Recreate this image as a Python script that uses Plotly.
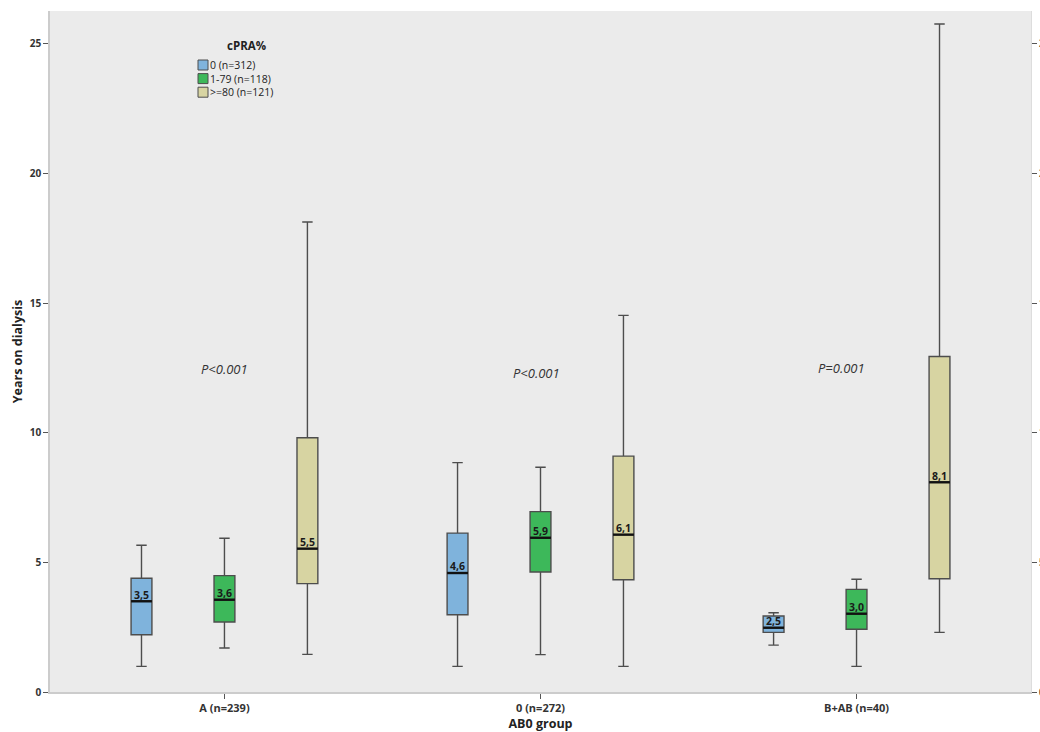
import plotly.graph_objects as go

# ABO groups and cPRA categories
groups = ["A (n=239)", "0 (n=272)", "B+AB (n=40)"]
cpra = ["0 (n=312)", "1-79 (n=118)", ">=80 (n=121)"]

# Box statistics (years on dialysis) per cPRA category, one value per ABO group
lower_whisker = [[0.99, 0.99, 1.81], [1.70, 1.44, 0.99], [1.45, 0.99, 2.30]]
q1 = [[2.21, 2.98, 2.30], [2.70, 4.63, 2.42], [4.18, 4.33, 4.37]]
median = [[3.50, 4.59, 2.48], [3.56, 5.95, 3.02], [5.53, 6.07, 8.09]]
q3 = [[4.39, 6.13, 2.93], [4.49, 6.96, 3.96], [9.81, 9.10, 12.94]]
upper_whisker = [[5.66, 8.85, 3.06], [5.93, 8.67, 4.35], [18.13, 14.53, 25.77]]
median_labels = [["3,5", "4,6", "2,5"], ["3,6", "5,9", "3,0"], ["5,5", "6,1", "8,1"]]

# Test results per ABO group
p_values = ["P<0.001", "P<0.001", "P=0.001"]
p_x = [0.0, 0.987, 1.953]
p_y = [12.45, 12.3, 12.5]

fills = ["#7fb3dc", "#3db85a", "#d7d4a2"]
outline = "#4d4d4d"
offsets = [-0.2625, 0.0, 0.2625]
box_w = 0.066
font_family = "Open Sans, DejaVu Sans, sans-serif"

# plot-area geometry in pixels (used for the compact legend block)
L, R, T, B = 50, 1031, 11, 692
W, H = R - L, B - T


def px_x(p):
    return (p - L) / W


def px_y(p):
    return (B - p) / H


fig = go.Figure()

for i, name in enumerate(cpra):
    xs = [g + offsets[i] for g in range(len(groups))]
    fig.add_trace(go.Box(
        name=name,
        x=xs,
        lowerfence=lower_whisker[i],
        q1=q1[i],
        median=median[i],
        q3=q3[i],
        upperfence=upper_whisker[i],
        width=box_w,
        whiskerwidth=0.5,
        fillcolor=fills[i],
        line=dict(color=outline, width=1.4),
        boxpoints=False,
        hoverinfo="skip",
        showlegend=False,
    ))

# Thick median bars and their value labels
for i in range(len(cpra)):
    xs = [g + offsets[i] for g in range(len(groups))]
    mx, my = [], []
    for x, m in zip(xs, median[i]):
        mx += [x - box_w / 2, x + box_w / 2, None]
        my += [m, m, None]
    fig.add_trace(go.Scatter(
        x=mx, y=my, mode="lines",
        line=dict(color="#111111", width=2.4),
        showlegend=False, hoverinfo="skip",
    ))
    fig.add_trace(go.Scatter(
        x=xs, y=median[i], mode="text",
        text=median_labels[i], textposition="top center",
        textfont=dict(family=font_family, size=10.5, color="#1a1a1a", weight="bold"),
        showlegend=False, hoverinfo="skip",
    ))

# Right-hand mirrored axis
fig.add_trace(go.Scatter(x=[None], y=[None], yaxis="y2", showlegend=False, hoverinfo="skip"))

for xx, txt, yy in zip(p_x, p_values, p_y):
    fig.add_annotation(
        x=xx, y=yy, text=f"<i>{txt}</i>", showarrow=False,
        font=dict(family=font_family, size=13, color="#333333"),
    )

# Compact legend: title, swatches and labels
fig.add_annotation(
    xref="paper", yref="paper", x=px_x(246), y=px_y(45),
    text="<b>cPRA%</b>", showarrow=False, xanchor="center", yanchor="middle",
    font=dict(family=font_family, size=11.5, color="#222222"), borderpad=0,
)
for i, name in enumerate(cpra):
    cy = 65 + i * 13.6
    fig.add_shape(
        type="rect", xref="paper", yref="paper",
        x0=px_x(198), x1=px_x(208), y0=px_y(cy + 5), y1=px_y(cy - 5),
        fillcolor=fills[i], line=dict(color=outline, width=1),
    )
    fig.add_annotation(
        xref="paper", yref="paper", x=px_x(209), y=px_y(cy),
        text=name, showarrow=False, xanchor="left", yanchor="middle",
        font=dict(family=font_family, size=10.5, color="#222222"), borderpad=0,
    )

y_range = [0, 26.27]
tickfont = dict(family=font_family, size=10, color="#333333", weight="bold")

fig.update_layout(
    width=1040, height=732,
    margin=dict(l=L, r=1040 - R, t=T, b=732 - B),
    paper_bgcolor="white",
    plot_bgcolor="#ebebeb",
    showlegend=False,
    xaxis=dict(
        range=[-0.552, 2.552], automargin=False,
        tickmode="array", tickvals=list(range(len(groups))), ticktext=groups,
        ticks="outside", ticklen=5, tickcolor="#555555", tickwidth=1,
        tickfont=dict(family=font_family, size=11, color="#333333", weight="bold"),
        showgrid=False, zeroline=False,
        showline=True, linecolor="#cccccc", linewidth=1.5,
        title=dict(text="AB0 group", standoff=4,
                   font=dict(family=font_family, size=12.5, color="#222222", weight="bold")),
    ),
    yaxis=dict(
        range=y_range, automargin=False,
        tickvals=[0, 5, 10, 15, 20, 25],
        ticks="outside", ticklen=5, tickcolor="#555555", tickwidth=1,
        tickfont=tickfont,
        showgrid=False, zeroline=False,
        showline=True, linecolor="#cccccc", linewidth=1.5,
        title=dict(text="Years on dialysis", standoff=4,
                   font=dict(family=font_family, size=12.5, color="#222222", weight="bold")),
    ),
    yaxis2=dict(
        range=y_range, overlaying="y", side="right", automargin=False,
        tickvals=[0, 5, 10, 15, 20, 25],
        ticks="outside", ticklen=5, tickcolor="#555555", tickwidth=1,
        tickfont=tickfont,
        showgrid=False, zeroline=False,
        showline=True, linecolor="#dddddd", linewidth=1,
    ),
)

fig.write_html("out.html")
